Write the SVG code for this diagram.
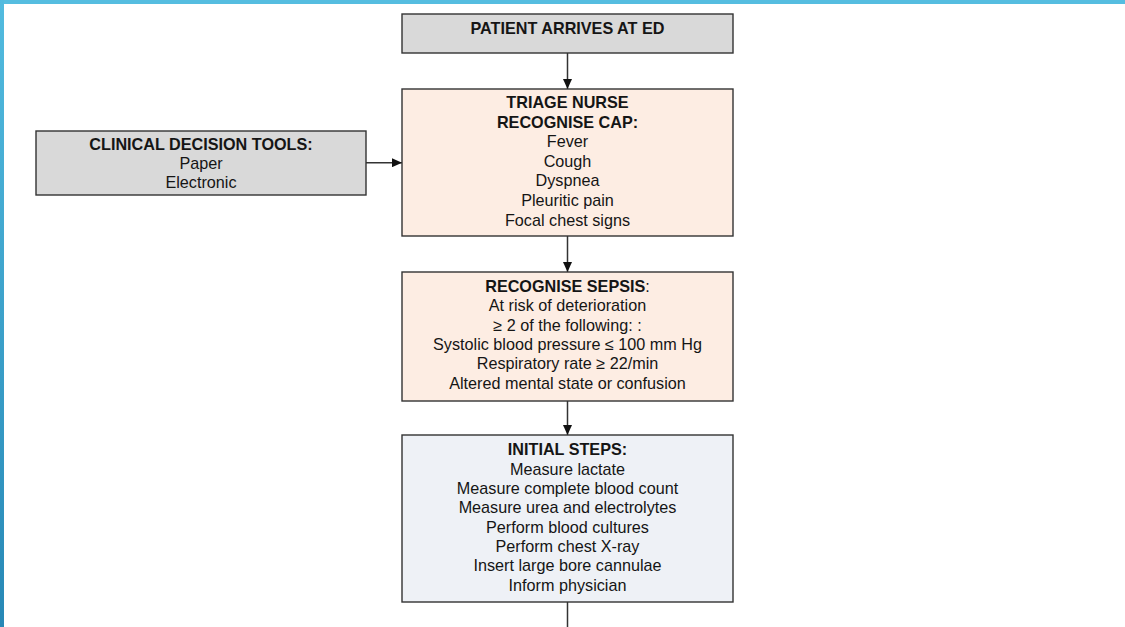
<svg xmlns="http://www.w3.org/2000/svg" width="1125" height="627" viewBox="0 0 1125 627">
<defs>
<linearGradient id="lbar" x1="0" y1="0" x2="0" y2="1">
<stop offset="0" stop-color="#52bbdf"/>
<stop offset="1" stop-color="#2788b6"/>
</linearGradient>
<marker id="ah" viewBox="0 0 10 9" refX="10" refY="4.5" markerWidth="10" markerHeight="9" markerUnits="userSpaceOnUse" orient="auto">
<path d="M0,0 L10,4.5 L0,9 Z" fill="#111"/>
</marker>
<style>
.box{stroke:#333;stroke-width:1.4}
.gray{fill:#d9d9d9}
.peach{fill:#fdede3}
.blue{fill:#eef1f6}
text{font-family:"Liberation Sans",Arial,sans-serif;font-size:16.2px;fill:#151515;text-anchor:middle}
.b{font-weight:bold}
.con{stroke:#333;stroke-width:1.5;fill:none}
</style>
</defs>
<rect width="1125" height="627" fill="#fff"/>
<rect x="0" y="0" width="1125" height="4" fill="#55bde0"/>
<rect x="0" y="0" width="4" height="627" fill="url(#lbar)"/>

<g id="connectors">
<line class="con" x1="567.5" y1="53" x2="567.5" y2="89" marker-end="url(#ah)"/>
<line class="con" x1="366" y1="162.7" x2="402" y2="162.7" marker-end="url(#ah)"/>
<line class="con" x1="567.5" y1="236" x2="567.5" y2="272" marker-end="url(#ah)"/>
<line class="con" x1="567.5" y1="401" x2="567.5" y2="435" marker-end="url(#ah)"/>
<line class="con" x1="567.5" y1="602" x2="567.5" y2="627"/>
</g>

<g id="patient">
<rect class="box gray" x="402" y="14" width="331" height="39"/>
<text class="b" x="567.5" y="34">PATIENT ARRIVES AT ED</text>
</g>

<g id="tools">
<rect class="box gray" x="36" y="131" width="330" height="64"/>
<text class="b" x="201" y="150">CLINICAL DECISION TOOLS:</text>
<text x="201" y="169">Paper</text>
<text x="201" y="188">Electronic</text>
</g>

<g id="triage">
<rect class="box peach" x="402" y="89" width="331" height="147"/>
<text class="b" x="567.5" y="108">TRIAGE NURSE</text>
<text class="b" x="567.5" y="127.6">RECOGNISE CAP:</text>
<text x="567.5" y="147.2">Fever</text>
<text x="567.5" y="166.8">Cough</text>
<text x="567.5" y="186.4">Dyspnea</text>
<text x="567.5" y="206">Pleuritic pain</text>
<text x="567.5" y="225.6">Focal chest signs</text>
</g>

<g id="sepsis">
<rect class="box peach" x="402" y="272" width="331" height="129"/>
<text x="567.5" y="291.7"><tspan class="b">RECOGNISE SEPSIS</tspan>:</text>
<text x="567.5" y="311.1">At risk of deterioration</text>
<text x="567.5" y="330.5">≥ 2 of the following: :</text>
<text x="567.5" y="349.9">Systolic blood pressure ≤ 100 mm Hg</text>
<text x="567.5" y="369.3">Respiratory rate ≥ 22/min</text>
<text x="567.5" y="388.7">Altered mental state or confusion</text>
</g>

<g id="initial">
<rect class="box blue" x="402" y="435" width="331" height="167"/>
<text class="b" x="567.5" y="455.3">INITIAL STEPS:</text>
<text x="567.5" y="474.65">Measure lactate</text>
<text x="567.5" y="494">Measure complete blood count</text>
<text x="567.5" y="513.35">Measure urea and electrolytes</text>
<text x="567.5" y="532.7">Perform blood cultures</text>
<text x="567.5" y="552.05">Perform chest X-ray</text>
<text x="567.5" y="571.4">Insert large bore cannulae</text>
<text x="567.5" y="590.75">Inform physician</text>
</g>
</svg>
